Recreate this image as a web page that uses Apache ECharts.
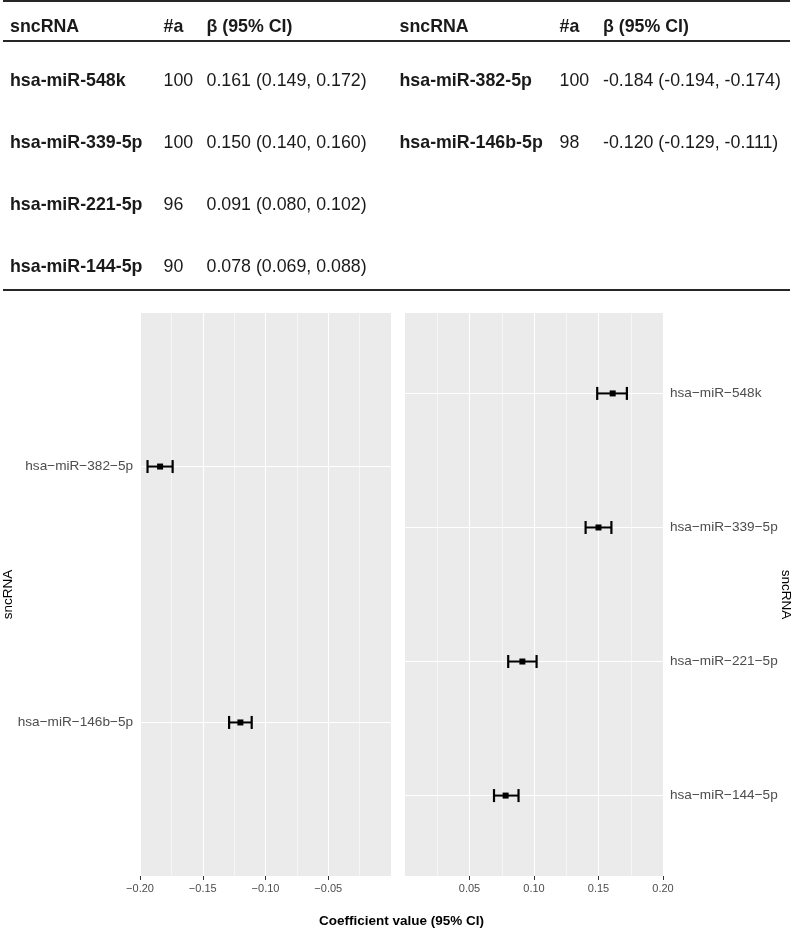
<!DOCTYPE html>
<html><head><meta charset="utf-8">
<script src="https://cdn.jsdelivr.net/npm/echarts@6/dist/echarts.min.js"></script>
<style>html,body{margin:0;padding:0;background:#fff}#c{width:793px;height:928px}</style>
</head><body><div id="c"></div>
<script>
// ---- data ----
const posNames = ['hsa-miR-548k', 'hsa-miR-339-5p', 'hsa-miR-221-5p', 'hsa-miR-144-5p'];
const posN = [100, 100, 96, 90];
const posBeta = [0.161, 0.150, 0.091, 0.078];
const posLo = [0.149, 0.140, 0.080, 0.069];
const posHi = [0.172, 0.160, 0.102, 0.088];

const negNames = ['hsa-miR-382-5p', 'hsa-miR-146b-5p'];
const negN = [100, 98];
const negBeta = [-0.184, -0.120];
const negLo = [-0.194, -0.129];
const negHi = [-0.174, -0.111];

const headers = ['sncRNA', '#a', '\u03B2 (95% CI)'];
const ticksLeft = [-0.20, -0.15, -0.10, -0.05];
const ticksRight = [0.05, 0.10, 0.15, 0.20];
const xTitle = 'Coefficient value (95% CI)';
const yTitle = 'sncRNA';

// ---- helpers ----
const FONT = '"Liberation Sans", Arial, Helvetica, sans-serif';
const minus = s => String(s).replace(/-/g, '\u2212');
const fmtCI = (b, l, h) => b.toFixed(3) + ' (' + l.toFixed(3) + ', ' + h.toFixed(3) + ')';

const graphics = [];
function hline(y, w) {
  graphics.push({type: 'line', silent: true, shape: {x1: 3, y1: y, x2: 790, y2: y},
    style: {stroke: '#262626', lineWidth: w}});
}
function txt(x, y, t, bold) {
  graphics.push({type: 'text', x: x, y: y, silent: true, style: {
    text: t, fontSize: 17.8, fontWeight: bold ? 'bold' : 'normal', fontFamily: FONT,
    fill: '#1a1a1a', align: 'left', verticalAlign: 'middle'}});
}
hline(1, 2); hline(41, 2); hline(290, 2);

const colL = [10, 163.5, 206.5];
const colR = [399.5, 559.5, 603];
const headY = 27;
const rowY = [81.5, 143, 205, 267];
headers.forEach((h, i) => { txt(colL[i], headY, h, true); txt(colR[i], headY, h, true); });
posNames.forEach((n, i) => {
  txt(colL[0], rowY[i], n, true);
  txt(colL[1], rowY[i], String(posN[i]), false);
  txt(colL[2], rowY[i], fmtCI(posBeta[i], posLo[i], posHi[i]), false);
});
negNames.forEach((n, i) => {
  txt(colR[0], rowY[i], n, true);
  txt(colR[1], rowY[i], String(negN[i]), false);
  txt(colR[2], rowY[i], fmtCI(negBeta[i], negLo[i], negHi[i]), false);
});

// axis titles
graphics.push({type: 'text', x: 401.5, y: 921, silent: true, style: {text: xTitle, fontSize: 13.5,
  fontWeight: 'bold', fontFamily: FONT, fill: '#000', align: 'center', verticalAlign: 'middle'}});
graphics.push({type: 'text', x: 8, y: 594.5, rotation: Math.PI / 2, silent: true, style: {text: yTitle,
  fontSize: 13.5, fontFamily: FONT, fill: '#000', align: 'center', verticalAlign: 'middle'}});
graphics.push({type: 'text', x: 786, y: 594.5, rotation: -Math.PI / 2, silent: true, style: {text: yTitle,
  fontSize: 13.5, fontFamily: FONT, fill: '#000', align: 'center', verticalAlign: 'middle'}});

// ---- chart ----
const tickStyle = {color: '#333333', width: 1};
function xAxis(idx, min, max, ticks) {
  return {
    type: 'value', gridIndex: idx, min: min, max: max, interval: 0.05,
    axisLine: {show: false},
    axisTick: {show: true, length: 4, lineStyle: tickStyle, customValues: ticks},
    axisLabel: {customValues: ticks, formatter: v => minus(v.toFixed(2)), color: '#4D4D4D',
      fontSize: 11, fontFamily: FONT, margin: 7},
    splitLine: {show: true, lineStyle: {color: '#ffffff', width: 1.1}},
    minorTick: {show: false, splitNumber: 2},
    minorSplitLine: {show: true, lineStyle: {color: '#ffffff', width: 0.55}}
  };
}
function yAxis(idx, names, pos) {
  const vals = names.map((_, i) => i + 1);
  return {
    type: 'value', gridIndex: idx, min: 0.4, max: names.length + 0.6, inverse: true, position: pos,
    axisLine: {show: false}, splitLine: {show: false},
    axisTick: {show: true, length: 4, lineStyle: tickStyle, customValues: vals},
    axisLabel: {customValues: vals, formatter: v => minus(names[Math.round(v) - 1] || ''),
      color: '#4D4D4D', fontSize: 13.6, fontFamily: FONT, margin: 7}
  };
}
function renderErr(params, api) {
  const y = api.value(1);
  const c = api.coord([api.value(0), y]);
  const l = api.coord([api.value(2), y]);
  const h = api.coord([api.value(3), y]);
  const cs = params.coordSys;
  const yy = c[1];
  return {type: 'group', children: [
    {type: 'line', shape: {x1: cs.x, y1: yy, x2: cs.x + cs.width, y2: yy}, style: {stroke: '#fff', lineWidth: 1.1}},
    {type: 'line', shape: {x1: l[0], y1: yy, x2: h[0], y2: yy}, style: {stroke: '#000', lineWidth: 2}},
    {type: 'line', shape: {x1: l[0], y1: yy - 6.5, x2: l[0], y2: yy + 6.5}, style: {stroke: '#000', lineWidth: 2.2}},
    {type: 'line', shape: {x1: h[0], y1: yy - 6.5, x2: h[0], y2: yy + 6.5}, style: {stroke: '#000', lineWidth: 2.2}},
    {type: 'rect', shape: {x: c[0] - 3, y: yy - 3, width: 6, height: 6}, style: {fill: '#000'}}
  ]};
}

const chart = echarts.init(document.getElementById('c'), null, {renderer: 'canvas'});
chart.setOption({
  animation: false,
  backgroundColor: '#fff',
  grid: [
    {left: 140, top: 313, width: 251, height: 563, show: true, backgroundColor: '#EBEBEB', borderWidth: 0},
    {left: 405, top: 313, width: 258, height: 563, show: true, backgroundColor: '#EBEBEB', borderWidth: 0}
  ],
  xAxis: [xAxis(0, -0.2, 0, ticksLeft), xAxis(1, 0, 0.2, ticksRight)],
  yAxis: [yAxis(0, negNames, 'left'), yAxis(1, posNames, 'right')],
  series: [
    {type: 'custom', xAxisIndex: 0, yAxisIndex: 0, renderItem: renderErr, silent: true,
      encode: {x: [0, 2, 3], y: 1},
      data: negBeta.map((b, i) => [b, i + 1, negLo[i], negHi[i]])},
    {type: 'custom', xAxisIndex: 1, yAxisIndex: 1, renderItem: renderErr, silent: true,
      encode: {x: [0, 2, 3], y: 1},
      data: posBeta.map((b, i) => [b, i + 1, posLo[i], posHi[i]])}
  ],
  graphic: graphics
});
</script>
</body></html>
